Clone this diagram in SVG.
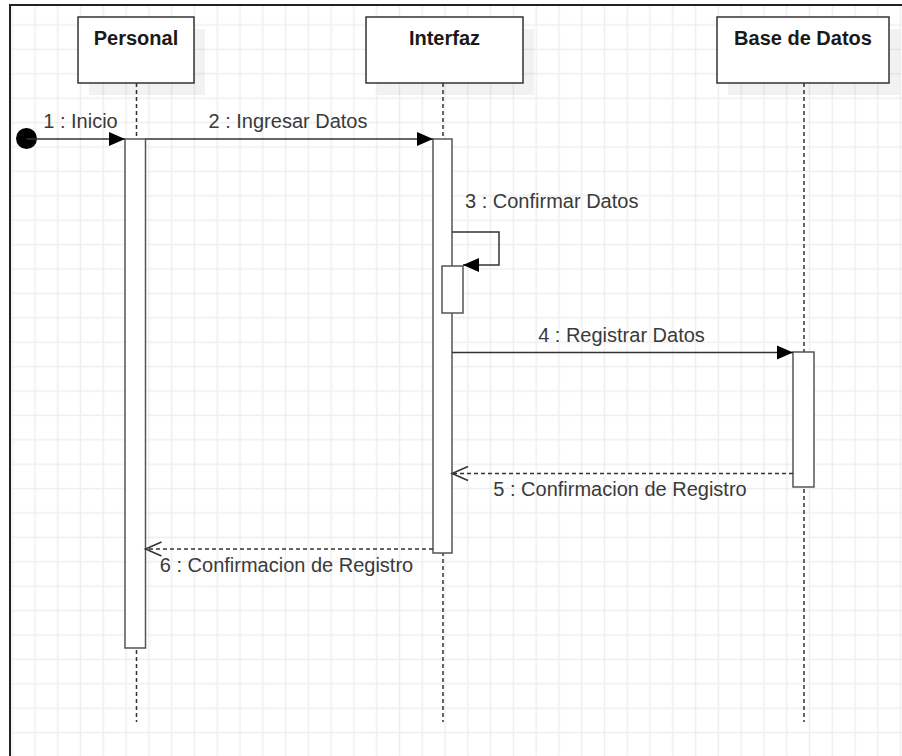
<svg xmlns="http://www.w3.org/2000/svg" width="902" height="756" viewBox="0 0 902 756">
<style>
.box{fill:#fff;stroke:#333;stroke-width:1.5}
.shadow{fill:#000;opacity:0.05}
.hdr{font-family:"Liberation Sans",Arial,sans-serif;font-size:20px;font-weight:bold;fill:#1a1a1a;text-anchor:middle}
.lbl{font-family:"Liberation Sans",Arial,sans-serif;font-size:20px;fill:#3a3a3a}
.life{stroke:#333;stroke-width:1.5;stroke-dasharray:4 3;fill:none}
.bar{fill:#fff;stroke:#555;stroke-width:1.5}
.msg{stroke:#333;stroke-width:1.5;fill:none}
.ret{stroke:#333;stroke-width:1.5;fill:none;stroke-dasharray:4 3}
</style>
<defs>
<pattern id="grid" x="23.61" y="12.8" width="22.78" height="24.4" patternUnits="userSpaceOnUse">
<path d="M11.39 0V24.4M0 12.2H22.78" stroke="#eeeeee" stroke-width="1.5" fill="none"/>
</pattern>
<marker id="fill" markerUnits="userSpaceOnUse" markerWidth="17" markerHeight="15" refX="16" refY="7" orient="auto" overflow="visible">
<path d="M0,0 L16,7 L0,14 Z" fill="#000"/>
</marker>
<marker id="open" markerUnits="userSpaceOnUse" markerWidth="17" markerHeight="15" refX="16" refY="7" orient="auto" overflow="visible">
<path d="M0,0 L16,7 L0,14" fill="none" stroke="#333" stroke-width="1.5"/>
</marker>
</defs>
<rect x="0" y="0" width="902" height="756" fill="#fff"/>
<rect x="10" y="5" width="892" height="751" fill="url(#grid)"/>
<path d="M10,756 V5 H902" fill="none" stroke="#222" stroke-width="2"/>

<g id="lifelines">
<line class="life" x1="136.5" y1="83" x2="136.5" y2="722"/>
<line class="life" x1="443" y1="83" x2="443" y2="722"/>
<line class="life" x1="804" y1="83" x2="804" y2="722"/>
</g>

<g id="personal">
<rect class="shadow" x="89" y="29" width="116" height="66"/>
<rect class="box" x="78" y="17" width="116" height="66"/>
<text class="hdr" x="136" y="45">Personal</text>
<rect class="bar" x="125" y="139" width="20.5" height="509"/>
</g>

<g id="interfaz">
<rect class="shadow" x="377" y="29" width="157" height="66"/>
<rect class="box" x="366" y="17" width="157" height="66"/>
<text class="hdr" x="444.5" y="45">Interfaz</text>
<rect class="bar" x="433" y="139" width="19" height="414"/>
<rect class="bar" x="442" y="266" width="21" height="47"/>
</g>

<g id="base-de-datos">
<rect class="shadow" x="728" y="29" width="172" height="66"/>
<rect class="box" x="717" y="17" width="172" height="66"/>
<text class="hdr" x="803" y="45">Base de Datos</text>
<rect class="bar" x="793" y="352" width="21" height="135"/>
</g>

<g id="connectors">
<circle cx="26.5" cy="138.5" r="10.5" fill="#000"/>
<line class="msg" x1="26.5" y1="139" x2="125" y2="139" marker-end="url(#fill)"/>
<text class="lbl" x="80.5" y="128" text-anchor="middle">1 : Inicio</text>

<line class="msg" x1="145.5" y1="139" x2="433" y2="139" marker-end="url(#fill)"/>
<text class="lbl" x="288" y="128" text-anchor="middle">2 : Ingresar Datos</text>

<path class="msg" d="M452,232 H499 V265 H463" marker-end="url(#fill)"/>
<text class="lbl" x="465" y="208">3 : Confirmar Datos</text>

<line class="msg" x1="452" y1="352.5" x2="793" y2="352.5" marker-end="url(#fill)"/>
<text class="lbl" x="621.5" y="342" text-anchor="middle">4 : Registrar Datos</text>

<line class="ret" x1="793" y1="473.5" x2="452" y2="473.5" marker-end="url(#open)"/>
<text class="lbl" x="620" y="496" text-anchor="middle">5 : Confirmacion de Registro</text>

<line class="ret" x1="433" y1="549" x2="145.5" y2="549" marker-end="url(#open)"/>
<text class="lbl" x="286.5" y="572" text-anchor="middle">6 : Confirmacion de Registro</text>
</g>
</svg>
